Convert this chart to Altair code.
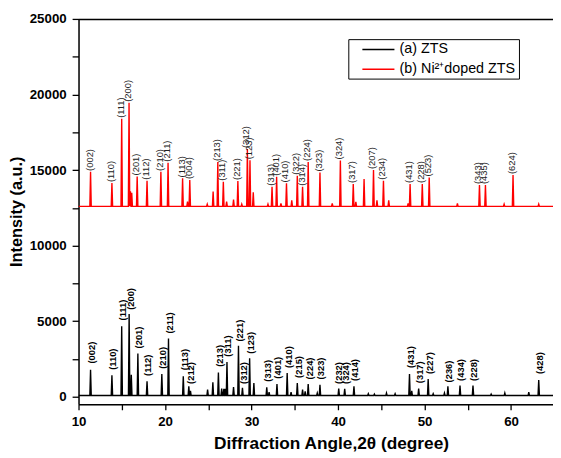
import altair as alt
import pandas as pd

FONT = "Liberation Sans, Arial"
X_MIN, X_MAX = 10, 64.85
Y_MIN, Y_MAX = -500, 25000

series_names = ["(a) ZTS", "(b) Ni\u00b2\u207adoped ZTS"]
series_colors = ["#000000", "#ff0000"]

# ---- (a) ZTS : peak positions (2θ) and intensities
zts_base = 80
zts_pos = [11.39, 13.86, 14.99, 15.85, 16.10, 16.86, 17.92, 19.63, 20.40, 22.11,
           22.75, 22.94, 24.92, 25.53, 26.17, 26.55, 26.80, 26.97, 27.16, 27.92,
           28.49, 28.95, 29.78, 30.27, 31.76, 32.03, 32.94, 34.12, 34.57, 35.29,
           35.90, 36.20, 36.55, 37.60, 37.91, 40.08, 40.77, 41.84, 43.5, 44.2,
           45.6, 46.6, 48.26, 48.52, 49.32, 50.42, 51.0, 52.30, 52.70, 54.10,
           55.60, 57.7, 59.28, 62.05, 63.20]
zts_int = [1780, 1420, 4670, 5480, 1450, 2870, 1020, 1500, 3850, 1350,
           700, 400, 480, 960, 1610, 540, 520, 520, 2300, 650,
           3370, 590, 2545, 910, 630, 300, 850, 1570, 300, 910,
           480, 350, 850, 250, 800, 540, 520, 700, 200, 180,
           250, 200, 1500, 400, 540, 1175, 200, 250, 700, 740,
           740, 180, 250, 300, 1110]

zts_lab = ["(002)", "(110)", "(111)", "(200)", "(201)", "(112)", "(210)", "(211)",
           "(113)", "(212)", "(213)", "(311)", "(221)", "(312)", "(123)", "(313)",
           "(401)", "(410)", "(215)", "(224)", "(323)", "(232)", "(324)", "(414)",
           "(431)", "(317)", "(227)", "(236)", "(434)", "(228)", "(428)"]
zts_lab_x = [11.39, 13.86, 14.99, 15.85, 16.86, 17.92, 19.63, 20.40,
             22.11, 22.80, 26.17, 27.16, 28.49, 28.95, 29.78, 31.76,
             32.94, 34.12, 35.29, 36.55, 37.91, 39.95, 40.75, 41.84,
             48.26, 49.32, 50.42, 52.70, 54.10, 55.60, 63.20]
zts_lab_y = [2200, 1780, 5050, 5750, 3200, 1380, 1850, 4180,
             1750, 850, 1980, 2650, 3650, 850, 2850, 1000,
             1200, 1900, 1250, 1150, 1150, 850, 850, 1050,
             1900, 900, 1500, 950, 1050, 1050, 1500]

# ---- (b) Ni2+ doped ZTS
ni_base = 12600
ni_pos = [11.39, 13.86, 14.99, 15.84, 16.00, 16.15, 16.78, 17.92, 19.52, 20.35,
          22.03, 22.60, 22.86, 24.88, 25.56, 26.10, 26.74, 27.12, 27.92, 28.42,
          28.87, 29.52, 29.82, 30.20, 31.9, 32.37, 32.90, 33.4, 34.04, 34.65,
          35.29, 35.90, 36.55, 37.91, 39.33, 40.27, 41.76, 42.06, 43.01, 44.10,
          44.50, 45.25, 45.86, 48.1, 48.33, 49.74, 50.54, 53.8, 56.35, 57.04,
          59.2, 60.23, 63.2]
ni_int = [14880, 14140, 18390, 19450, 13600, 13490, 14580, 14300, 14880, 15490,
          14450, 12920, 14340, 12750, 13580, 15540, 14230, 12920, 13050, 14280,
          12750, 16400, 15650, 13530, 12750, 13900, 14560, 12800, 14120, 12990,
          14620, 13900, 15540, 14840, 12800, 15640, 14080, 12900, 14400, 15000,
          13000, 14300, 13000, 12800, 14080, 14080, 14510, 12800, 14010, 14010,
          12750, 14670, 12750]

ni_lab = ["(002)", "(110)", "(111)", "(200)", "(201)", "(112)", "(210)", "(211)",
          "(113)", "(004)", "(213)", "(311)", "(221)", "(312)", "(123)", "(313)",
          "(401)", "(410)", "(322)", "(314)", "(224)", "(323)", "(324)", "(317)",
          "(207)", "(234)", "(431)", "(228)", "(523)", "(343)", "(435)", "(624)"]
ni_lab_x = [11.39, 13.86, 14.99, 15.84, 16.78, 17.92, 19.52, 20.35,
            22.03, 22.86, 26.10, 26.74, 28.42, 29.52, 29.82, 32.37,
            32.90, 34.04, 35.29, 35.90, 36.55, 37.91, 40.27, 41.76,
            44.10, 45.25, 48.33, 49.74, 50.54, 56.35, 57.04, 60.23]
ni_lab_y = [14880, 14140, 18390, 19450, 14580, 14300, 14880, 15490,
            14450, 14340, 15540, 14230, 14280, 16400, 15650, 13900,
            14560, 14120, 14620, 13900, 15540, 14840, 15640, 14080,
            15000, 14300, 14080, 14080, 14510, 14010, 14010, 14670]

HW = 0.08


def profile(name, base, pos, inten):
    rows = [dict(x=X_MIN, y=base, s=name)]
    for p, h in zip(pos, inten):
        rows += [dict(x=p - HW, y=base, s=name), dict(x=p, y=h, s=name),
                 dict(x=p + HW, y=base, s=name)]
    rows.append(dict(x=X_MAX, y=base, s=name))
    return rows


lines_df = pd.DataFrame(profile(series_names[0], zts_base, zts_pos, zts_int)
                        + profile(series_names[1], ni_base, ni_pos, ni_int))
zts_lab_df = pd.DataFrame({"x": zts_lab_x, "y": zts_lab_y, "t": zts_lab})
ni_lab_df = pd.DataFrame({"x": ni_lab_x, "y": ni_lab_y, "t": ni_lab})

xscale = alt.Scale(domain=[X_MIN, X_MAX], nice=False, zero=False)
yscale = alt.Scale(domain=[Y_MIN, Y_MAX], nice=False, zero=False)

yaxis = alt.Axis(values=list(range(0, 25001, 2500)),
                 labelExpr="datum.value % 5000 == 0 ? datum.label : ''",
                 format="d", title="Intensity (a.u.)", titleFontSize=16.5,
                 titleFontWeight="bold", titleX=-62.5, titleY=195,
                 titleAngle=270, titleAlign="center", titleBaseline="middle",
                 labelFontSize=13.5, labelFontWeight="bold", labelColor="black",
                 tickColor="black", domainColor="black", tickSize=6.5,
                 tickWidth=1.3, domainWidth=1.5, labelPadding=6, grid=False,
                 labelFlush=False)

xaxis = alt.Axis(values=list(range(10, 65, 5)),
                 labelExpr="datum.value % 10 == 0 ? datum.label : ''",
                 format="d", title="Diffraction Angle,2\u03b8 (degree)",
                 titleFontSize=17.5, titleFontWeight="bold", titleX=256,
                 titleY=45, titleBaseline="alphabetic", titleAlign="center",
                 labelFontSize=13.5, labelFontWeight="bold", labelColor="black",
                 tickColor="black", domainColor="black", tickSize=5.5,
                 tickWidth=1.3, domainWidth=1.5, labelPadding=5, grid=False,
                 labelFlush=False)

topaxis = alt.Axis(orient="top", labels=False, ticks=False, title=None,
                   domainColor="black", domainWidth=1.5, grid=False)

lines = alt.Chart(lines_df).mark_line(strokeWidth=1.4, clip=True).encode(
    x=alt.X("x:Q", scale=xscale, axis=xaxis),
    y=alt.Y("y:Q", scale=yscale, axis=yaxis),
    color=alt.Color("s:N", sort=series_names,
                    scale=alt.Scale(domain=series_names, range=series_colors),
                    legend=alt.Legend(orient="none", legendX=273.5, legendY=20.5,
                                      title=None, strokeColor="black",
                                      padding=3, labelFontSize=14.5,
                                      labelFont=FONT, labelColor="black",
                                      symbolType="M-2.5,0H2.5", symbolSize=169,
                                      symbolStrokeWidth=1.5, symbolOffset=20,
                                      labelOffset=14, rowPadding=5,
                                      labelExpr="datum.label + '\u00a0\u00a0\u00a0\u00a0\u00a0\u00a0\u00a0\u00a0'")),
)

zts_text = alt.Chart(zts_lab_df).mark_text(
    angle=270, align="left", baseline="middle", fontSize=9.5,
    fontWeight="bold", font=FONT, color="black", dy=1.5, clip=True
).encode(
    x=alt.X("x:Q", scale=xscale, axis=topaxis),
    y=alt.Y("y:Q", scale=yscale, axis=yaxis),
    text="t:N",
)

ni_text = alt.Chart(ni_lab_df).mark_text(
    angle=270, align="left", baseline="middle", fontSize=9.5,
    font=FONT, color="#222222", dy=-1, dx=1, clip=True
).encode(
    x=alt.X("x:Q", scale=xscale, axis=None),
    y=alt.Y("y:Q", scale=yscale, axis=yaxis),
    text="t:N",
)

chart = alt.layer(lines, zts_text, ni_text).resolve_axis(x="independent").properties(
    width=481, height=390.7,
    autosize=alt.AutoSizeParams(type="none"),
    padding={"left": 71.5, "top": 8, "right": 0, "bottom": 50},
).configure_view(stroke=None).configure_axis(
    labelFont=FONT, titleFont=FONT, titleColor="black"
).configure(background="white")

chart.save("out.html", embed_options={"renderer": "svg", "actions": False})
